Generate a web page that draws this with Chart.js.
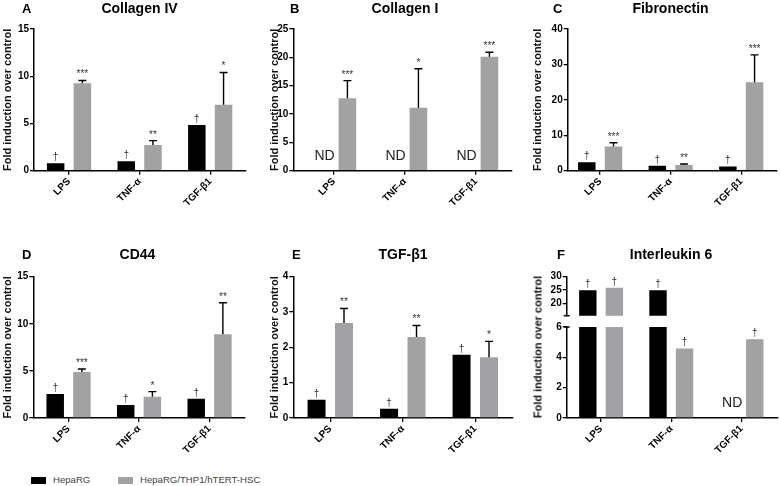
<!DOCTYPE html>
<html>
<head>
<meta charset="utf-8">
<script src="https://cdn.jsdelivr.net/npm/chart.js@4.4.1/dist/chart.umd.min.js"></script>
<style>
  body { margin: 0; width: 780px; height: 486px; background: #fff; position: relative; overflow: hidden;
         font-family: 'Liberation Sans', Arial, sans-serif; }
  canvas { position: absolute; }
  .txt { position: absolute; white-space: nowrap; color: #000; }
  .letter { font-weight: bold; font-size: 13px; line-height: 13px; }
  .head { font-weight: bold; font-size: 14px; line-height: 14px; transform: translateX(-50%); }
  .ytitle { font-weight: bold; font-size: 11px; line-height: 11px; transform: translate(-50%, -50%) rotate(-90deg); color: #111; }
  .leg { font-size: 9.6px; line-height: 10px; color: #444; }
  .sw { position: absolute; width: 15px; height: 6.5px; }
</style>
</head>
<body>
<script>
const categories = ['LPS', 'TNF-α', 'TGF-β1'];
const seriesNames = ['HepaRG', 'HepaRG/THP1/hTERT-HSC'];
const yTitle = 'Fold induction over control';

// A  Collagen IV
const col4Hepa = [0.78, 0.99, 4.85];
const col4Co = [9.27, 2.72, 6.97];
const col4CoSd = [0.28, 0.46, 3.43];
const col4HepaSig = ['†', '†', '†'];
const col4CoSig = ['***', '**', '*'];
const col4Ticks = [0, 5, 10, 15];

// B  Collagen I (HepaRG not detected)
const col1Hepa = [null, null, null];
const col1Co = [12.8, 11.1, 20.1];
const col1CoSd = [3.1, 6.9, 0.8];
const col1HepaSig = ['ND', 'ND', 'ND'];
const col1CoSig = ['***', '*', '***'];
const col1Ticks = [0, 5, 10, 15, 20, 25];

// C  Fibronectin
const fibHepa = [2.36, 1.4, 1.2];
const fibCo = [6.8, 1.6, 25.0];
const fibCoSd = [1.1, 0.3, 7.7];
const fibHepaSig = ['†', '†', '†'];
const fibCoSig = ['***', '**', '***'];
const fibTicks = [0, 10, 20, 30, 40];

// D  CD44
const cd44Hepa = [2.55, 1.38, 2.05];
const cd44Co = [4.88, 2.26, 8.88];
const cd44CoSd = [0.32, 0.54, 3.36];
const cd44HepaSig = ['†', '†', '†'];
const cd44CoSig = ['***', '*', '**'];
const cd44Ticks = [0, 5, 10, 15];

// E  TGF-b1
const tgfHepa = [0.52, 0.26, 1.79];
const tgfCo = [2.69, 2.29, 1.72];
const tgfCoSd = [0.41, 0.33, 0.45];
const tgfHepaSig = ['†', '†', '†'];
const tgfCoSig = ['**', '**', '*'];
const tgfTicks = [0, 1, 2, 3, 4];

// F  Interleukin 6 (broken axis)
const il6Hepa = [25.0, 25.0, null];
const il6Co = [25.9, 4.59, 5.19];
const il6HepaSig = ['†', '†', 'ND'];
const il6CoSig = ['†', '†', '†'];
const il6TicksLow = [0, 2, 4, 6];
const il6TicksHigh = [20, 25, 30];

const colors = ['#000000', '#a2a2a4'];
const FONT = "'Liberation Sans', Arial, sans-serif";
Chart.defaults.font.family = FONT;

// error bars, significance marks, ND labels
const marks = {
  id: 'marks',
  afterDatasetsDraw(chart, args, opts) {
    const ctx = chart.ctx, ys = chart.scales.y;
    const inRange = v => v >= ys.min - 1e-9 && v <= ys.max + 1e-9;
    ctx.save();
    chart.data.datasets.forEach((ds, di) => {
      chart.getDatasetMeta(di).data.forEach((bar, i) => {
        const v = ds.data[i].y;
        let top = v;
        if (ds.sd && v != null) {
          top = v + ds.sd[i];
          if (inRange(top)) {
            const y0 = ys.getPixelForValue(v), y1 = ys.getPixelForValue(top);
            ctx.strokeStyle = '#000';
            ctx.lineWidth = 1.4;
            ctx.beginPath();
            ctx.moveTo(bar.x, y0); ctx.lineTo(bar.x, y1);
            ctx.moveTo(bar.x - 4, y1); ctx.lineTo(bar.x + 4, y1);
            ctx.stroke();
          }
        }
        const s = ds.sig && ds.sig[i];
        if (!s) return;
        ctx.textAlign = 'center';
        ctx.textBaseline = 'alphabetic';
        if (s === 'ND') {
          if (!inRange(0)) return;
          ctx.font = '14px ' + FONT;
          ctx.fillStyle = '#222';
          ctx.fillText(s, bar.x + 4, ys.getPixelForValue(0) - 11);
        } else if (v != null && inRange(top)) {
          ctx.font = '10px ' + FONT;
          ctx.fillStyle = '#333';
          ctx.fillText(s, bar.x, ys.getPixelForValue(top) - 3);
        }
      });
    });
    // little end marks where the F axis is broken
    if (opts.brk) {
      const a = chart.chartArea;
      const y = opts.brk === 'bottom' ? a.bottom : a.top;
      ctx.strokeStyle = '#000';
      ctx.lineWidth = 1.5;
      ctx.beginPath();
      ctx.moveTo(a.left - 3, y); ctx.lineTo(a.left + 3, y);
      ctx.stroke();
    }
    ctx.restore();
  }
};

function toPts(arr) {
  return arr.map((v, i) => ({ x: i, y: v }));
}

function makeChart(p) {
  const cv = document.createElement('canvas');
  cv.width = p.w; cv.height = p.h;
  cv.style.left = p.left + 'px';
  cv.style.top = p.top + 'px';
  document.body.appendChild(cv);
  const hideX = p.showX === false;
  const axisStyle = hidden => ({
    grid: { display: !hidden, offset: false, drawOnChartArea: false, tickLength: 4, color: '#000', lineWidth: 1.3 },
    border: { display: !hidden, color: '#000', width: 1.5 }
  });
  new Chart(cv.getContext('2d'), {
    type: 'bar',
    data: {
      datasets: [
        { label: seriesNames[0], data: toPts(p.hepa), backgroundColor: colors[0], sig: p.hepaSig },
        { label: seriesNames[1], data: toPts(p.co), backgroundColor: colors[1], sd: p.coSd, sig: p.coSig }
      ]
    },
    options: {
      responsive: false,
      animation: false,
      layout: { autoPadding: false, padding: { left: 0, right: p.padR, top: p.padT, bottom: p.padB || 0 } },
      datasets: { bar: { categoryPercentage: 0.757, barPercentage: 0.655, clip: 0 } },
      plugins: { legend: { display: false }, tooltip: { enabled: false }, marks: { brk: p.brk } },
      scales: {
        x: Object.assign(axisStyle(hideX), {
          type: 'linear', min: p.xMin, max: p.xMax, offset: false,
          afterBuildTicks: s => { s.ticks = categories.map((c, i) => ({ value: i })); },
          afterFit: s => { s.height = hideX ? 0 : p.xH; },
          ticks: { display: !hideX, autoSkip: false, minRotation: 45, maxRotation: 45, padding: 1, color: '#000',
                   font: { size: 10, weight: 'bold' }, callback: v => categories[v] }
        }),
        y: Object.assign(axisStyle(false), {
          min: p.yMin || 0, max: p.yMax,
          afterBuildTicks: s => { s.ticks = p.yTicks.map(v => ({ value: v })); },
          afterFit: s => { s.width = p.axis - p.left; },
          ticks: { padding: 1, color: '#000', font: { size: 10, weight: 'bold' } },
          title: { display: p.showTitle !== false, text: yTitle, color: '#111',
                   font: { size: 11, weight: 'bold' }, padding: { top: p.titlePad || 0, bottom: 0 } }
        })
      }
    },
    plugins: [marks]
  });
}

const top1 = { top: 0, h: 215, padT: 29, xH: 44.3 };
const top2 = { top: 215, h: 250, padT: 61.7, xH: 47 };

makeChart(Object.assign({ left: 0, w: 258, axis: 34, padR: 12.5, xMin: -0.496, xMax: 2.5, titlePad: 0.9,
  hepa: col4Hepa, co: col4Co, coSd: col4CoSd, hepaSig: col4HepaSig, coSig: col4CoSig, yMax: 15, yTicks: col4Ticks }, top1));
makeChart(Object.assign({ left: 258, w: 262, axis: 293.3, padR: 8.3, xMin: -0.573, xMax: 2.503, titlePad: 9.9,
  hepa: col1Hepa, co: col1Co, coSd: col1CoSd, hepaSig: col1HepaSig, coSig: col1CoSig, yMax: 25, yTicks: col1Ticks }, top1));
makeChart(Object.assign({ left: 520, w: 260, axis: 567.7, padR: 3.5, xMin: -0.46, xMax: 2.5, titlePad: 11.4,
  hepa: fibHepa, co: fibCo, coSd: fibCoSd, hepaSig: fibHepaSig, coSig: fibCoSig, yMax: 40, yTicks: fibTicks }, top1));
makeChart(Object.assign({ left: 0, w: 258, axis: 33.3, padR: 13.2, xMin: -0.5, xMax: 2.5, titlePad: 0.9,
  hepa: cd44Hepa, co: cd44Co, coSd: cd44CoSd, hepaSig: cd44HepaSig, coSig: cd44CoSig, yMax: 15, yTicks: cd44Ticks }, top2));
makeChart(Object.assign({ left: 258, w: 262, axis: 293.3, padR: 7, xMin: -0.51, xMax: 2.52, titlePad: 9.9,
  hepa: tgfHepa, co: tgfCo, coSd: tgfCoSd, hepaSig: tgfHepaSig, coSig: tgfCoSig, yMax: 4, yTicks: tgfTicks }, top2));
// F upper segment
makeChart({ left: 520, top: 215, w: 260, h: 110, padT: 61.7, padB: 9.3, axis: 566.7, padR: 2, xMin: -0.49, xMax: 2.52,
  showX: false, showTitle: false, brk: 'bottom',
  hepa: il6Hepa, co: il6Co, hepaSig: il6HepaSig, coSig: il6CoSig, yMin: 15.5, yMax: 30, yTicks: il6TicksHigh });
// F lower segment
makeChart({ left: 520, top: 320, w: 260, h: 145, padT: 7, xH: 47, axis: 566.7, padR: 2, xMin: -0.49, xMax: 2.52,
  showTitle: false, brk: 'top',
  hepa: il6Hepa, co: il6Co, hepaSig: il6HepaSig, coSig: il6CoSig, yMax: 6, yTicks: il6TicksLow });

// panel letters and titles
const heads = [
  ['A', 22, 'Collagen IV', 139.5, 0], ['B', 290, 'Collagen I', 405, 0], ['C', 553, 'Fibronectin', 670.5, 0],
  ['D', 22, 'CD44', 137.5, 1], ['E', 292, 'TGF-β1', 403, 1], ['F', 557, 'Interleukin 6', 671, 1]
];
const baselines = [13.3, 259.3];
function addText(cls, text, x, y) {
  const d = document.createElement('div');
  d.className = 'txt ' + cls;
  d.textContent = text;
  d.style.left = x + 'px';
  d.style.top = y + 'px';
  document.body.appendChild(d);
  return d;
}
heads.forEach(h => {
  addText('letter', h[0], h[1], baselines[h[4]] - 11.0);
  addText('head', h[2], h[3], baselines[h[4]] - 11.85);
});
// F has two y segments, so its axis title spans both
addText('ytitle', yTitle, 538, 347.3);

// legend
const legX = [[31, 53], [118.3, 140]];
seriesNames.forEach((name, i) => {
  const sw = document.createElement('div');
  sw.className = 'sw';
  sw.style.left = legX[i][0] + 'px';
  sw.style.top = '477px';
  sw.style.background = colors[i];
  document.body.appendChild(sw);
  addText('leg', name, legX[i][1], 475.1);
});
</script>
</body>
</html>
